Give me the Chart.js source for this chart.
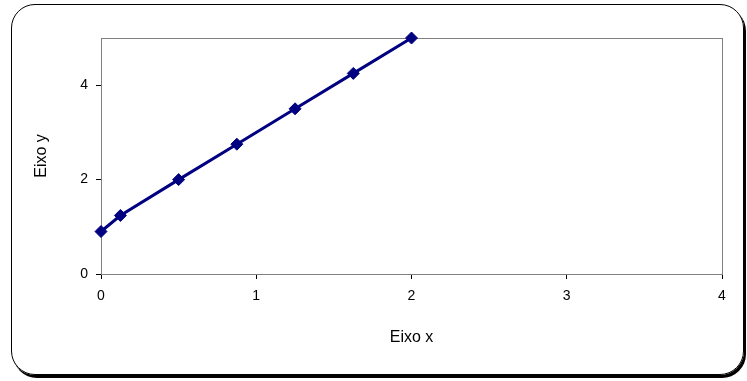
<!DOCTYPE html>
<html>
<head>
<meta charset="utf-8">
<script src="https://cdn.jsdelivr.net/npm/chart.js"></script>
<style>
  html, body { margin: 0; padding: 0; background: #fff; }
  #wrap { position: relative; width: 747px; height: 381px; }
  #frame {
    position: absolute; left: 11px; top: 4px; width: 731px; height: 369px;
    border: 1px solid #000; border-radius: 24px;
    box-shadow: 2px 3px 0 #000; pointer-events: none;
  }
  canvas { position: absolute; left: 0; top: 0; }
</style>
</head>
<body>
<div id="wrap">
  <div id="frame"></div>
  <canvas id="chart" width="747" height="381"></canvas>
</div>
<script>
// series values
const xValues = [0, 0.125, 0.5, 0.875, 1.25, 1.625, 2];
const yValues = [0.9, 1.24, 2, 2.75, 3.5, 4.25, 5];

// axis settings
const xTicks = [0, 1, 2, 3, 4];
const yTicks = [0, 2, 4];
const xTitle = 'Eixo x';
const yTitle = 'Eixo y';

const FONT = 'Liberation Sans, Arial, sans-serif';
const NAVY = '#000080';

// gray plot-area outline (top and right edges stay gray, axes draw over it)
const plotBorder = {
    id: 'plotBorder',
    beforeDatasetsDraw(chart) {
        const { ctx, chartArea: a } = chart;
        ctx.save();
        ctx.strokeStyle = '#808080';
        ctx.lineWidth = 1;
        ctx.strokeRect(a.left + 0.5, a.top + 0.5, a.right - a.left, a.bottom - a.top);
        ctx.restore();
    }
};

new Chart(document.getElementById('chart'), {
    type: 'scatter',
    data: {
        datasets: [{
            data: xValues.map((x, i) => ({ x, y: yValues[i] })),
            showLine: true,
            borderColor: NAVY,
            backgroundColor: NAVY,
            borderWidth: 3,
            pointStyle: 'rectRot',
            pointRadius: 6,
            pointBorderWidth: 1,
            pointHoverRadius: 6,
            clip: false
        }]
    },
    options: {
        responsive: false,
        animation: false,
        events: [],
        layout: { padding: { left: 0, top: 38, right: 25, bottom: 0 } },
        plugins: { legend: { display: false }, tooltip: { enabled: false } },
        scales: {
            x: {
                type: 'linear',
                min: 0, max: 4,
                afterBuildTicks(scale) { scale.ticks = xTicks.map(v => ({ value: v })); },
                afterFit(scale) { scale.height = 381 - 274; },
                grid: { drawOnChartArea: false, drawTicks: true, tickLength: 5, color: '#000' },
                border: { color: '#000', width: 1 },
                ticks: { color: '#000', font: { family: FONT, size: 14 }, padding: 9 },
                title: {
                    display: true, text: xTitle, color: '#000',
                    font: { family: FONT, size: 16 },
                    padding: { top: 34, bottom: 34 }
                }
            },
            y: {
                type: 'linear',
                min: 0, max: 5,
                afterBuildTicks(scale) { scale.ticks = yTicks.map(v => ({ value: v })); },
                afterFit(scale) { scale.width = 101; },
                grid: { drawOnChartArea: false, drawTicks: true, tickLength: 5, color: '#000' },
                border: { color: '#000', width: 1 },
                ticks: { color: '#000', font: { family: FONT, size: 14 }, padding: 8 },
                title: {
                    display: true, text: yTitle, color: '#000',
                    font: { family: FONT, size: 16 },
                    padding: { top: 32, bottom: 32 }
                }
            }
        }
    },
    plugins: [plotBorder]
});
</script>
</body>
</html>
